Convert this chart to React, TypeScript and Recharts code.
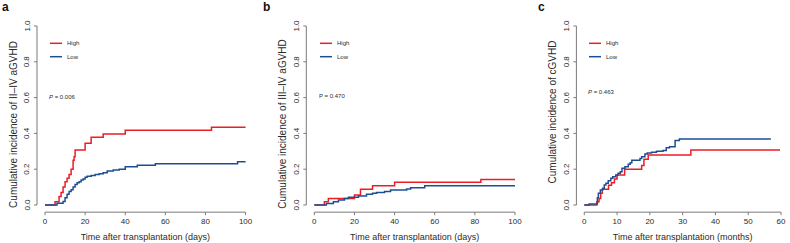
import React from 'react';
import { LineChart, Line, XAxis, YAxis, ReferenceLine, Legend, Label } from 'recharts';

const FONT = '"Liberation Sans", Arial, Helvetica, sans-serif';
const RED = '#ec1d25';
const BLUE = '#1c4f92';
const AXIS = '#7a7a7a';
const INK = '#2b2b2b';

// Shared axis ticks
const dayTicks = [0, 20, 40, 60, 80, 100];
const monthTicks = [0, 10, 20, 30, 40, 50, 60];
const probTicks = [0, 0.2, 0.4, 0.6, 0.8, 1];
const probTickLabels = ['0.0', '0.2', '0.4', '0.6', '0.8', '1.0'];

// a: grade II–IV acute GVHD (days)
const aHighT = [0, 5, 7, 8, 9, 10, 11, 12, 13, 14, 14.5, 15, 20, 23, 29, 40, 83, 100];
const aHighV = [0, 0.018, 0.047, 0.07, 0.1, 0.13, 0.15, 0.17, 0.2, 0.25, 0.27, 0.307, 0.345, 0.378, 0.397, 0.417, 0.434, 0.434];
const aLowT = [0, 6, 9, 10, 11, 12, 13, 14, 15, 16, 17, 18, 19, 20, 21, 23, 25, 27, 29, 31, 34, 37, 40, 46, 55, 96, 100];
const aLowV = [0, 0.01, 0.02, 0.04, 0.06, 0.075, 0.085, 0.1, 0.115, 0.125, 0.13, 0.14, 0.145, 0.155, 0.16, 0.165, 0.17, 0.175, 0.18, 0.19, 0.195, 0.2, 0.213, 0.222, 0.23, 0.242, 0.242];

// b: grade III–IV acute GVHD (days)
const bHighT = [0, 5, 7, 20, 23, 29, 40, 83, 100];
const bHighV = [0, 0.018, 0.037, 0.056, 0.088, 0.108, 0.127, 0.143, 0.143];
const bLowT = [0, 6, 9.5, 12, 15, 17, 22, 26, 29, 31, 35, 38, 46, 48, 55, 100];
const bLowV = [0, 0.009, 0.018, 0.028, 0.037, 0.043, 0.05, 0.06, 0.065, 0.07, 0.076, 0.084, 0.09, 0.097, 0.107, 0.107];

// c: chronic GVHD (months)
const cHighT = [0, 3.8, 4.5, 5, 5.5, 7.4, 8.3, 9.2, 10, 12.3, 17.5, 18.2, 19.5, 32.5, 59.7];
const cHighV = [0, 0.018, 0.037, 0.065, 0.088, 0.11, 0.125, 0.145, 0.168, 0.2, 0.22, 0.255, 0.28, 0.307, 0.307];
const cLowT = [0, 1.5, 4, 4.3, 4.9, 5.6, 6.1, 6.6, 7.3, 8.1, 8.7, 9.6, 10.3, 11, 11.5, 12.4, 13.4, 14, 14.5, 17, 17.5, 18.5, 19.2, 20.5, 22, 24, 25, 26, 27.7, 29, 56.9];
const cLowV = [0, 0.006, 0.04, 0.065, 0.084, 0.093, 0.112, 0.121, 0.136, 0.149, 0.158, 0.168, 0.177, 0.186, 0.205, 0.214, 0.227, 0.236, 0.25, 0.26, 0.27, 0.285, 0.29, 0.295, 0.3, 0.305, 0.32, 0.326, 0.36, 0.369, 0.369];

type Pt = { t: number; v: number };
const toSteps = (t: number[], v: number[]): Pt[] => t.map((x, i) => ({ t: x, v: v[i] }));

const CHART_H = 243;
const PLOT_TOP = 18.84;
const X_AXIS_H = 30.84;

interface PanelProps {
  left: number;
  width: number;
  yAxisWidth: number;
  marginRight: number;
  xDomain: [number, number];
  xTicks: number[];
  high: Pt[];
  low: Pt[];
  letter: string;
  letterLeft: number;
  yTitle: string;
  yTitleCenter: number;
  xTitle: string;
  pValue: string;
  pItalic: boolean;
  keyLeft: number;
  pY: number;
}

const KEY_TOP = 38;

const KeyBox = (props: any) => {
  const { payload, pValue, pItalic, pY } = props;
  return (
    <svg width={80} height={70} style={{ display: 'block', overflow: 'visible' }}>
      {(payload || []).map((p: any, i: number) => {
        const y = 5.3 + i * 13.4;
        return (
          <g key={p.value}>
            <line x1={0} x2={12} y1={y} y2={y} stroke={p.color} strokeWidth={1.5} />
            <text x={17} y={y} dy="0.36em" fontSize={6} fontFamily={FONT} fill={INK}>
              {p.value}
            </text>
          </g>
        );
      })}
      <text x={-1} y={pY - KEY_TOP} dy="0.36em" fontSize={6} fontFamily={FONT} fill={INK}>
        <tspan fontStyle={pItalic ? 'italic' : 'normal'}>P</tspan>
        <tspan>{` = ${pValue}`}</tspan>
      </text>
    </svg>
  );
};

const YTick = (props: any) => {
  const { x, y, payload } = props;
  const idx = probTicks.indexOf(payload.value);
  return (
    <text
      x={x}
      y={y}
      transform={`rotate(-90, ${x}, ${y})`}
      textAnchor="middle"
      fontSize={8}
      fontFamily={FONT}
      fill={INK}
    >
      {idx >= 0 ? probTickLabels[idx] : payload.value}
    </text>
  );
};

const Panel = (p: PanelProps) => {
  const xFirst = p.xTicks[0];
  const xLast = p.xTicks[p.xTicks.length - 1];
  return (
    <div style={{ position: 'absolute', left: p.left, top: 0, width: p.width, height: CHART_H }}>
      <svg
        width={20}
        height={16}
        style={{ position: 'absolute', left: p.letterLeft - p.left, top: 0, overflow: 'visible' }}
      >
        <text x={0} y={11.2} fontSize={12} fontWeight="bold" fontFamily={FONT} fill="#111">
          {p.letter}
        </text>
      </svg>
      <LineChart
        width={p.width}
        height={CHART_H}
        margin={{ top: PLOT_TOP, right: p.marginRight, bottom: 0, left: 0 }}
      >
        <XAxis
          type="number"
          dataKey="t"
          domain={p.xDomain}
          ticks={p.xTicks}
          allowDataOverflow
          height={X_AXIS_H}
          axisLine={false}
          tickLine={{ stroke: AXIS }}
          tickSize={3}
          tickMargin={3}
          tick={{ fontSize: 8, fill: INK, fontFamily: FONT }}
          interval={0}
        >
          <Label
            content={(lp: any) => {
              const vb = lp.viewBox || { x: 0, width: 0 };
              return (
                <text
                  x={vb.x + vb.width / 2}
                  y={239.5}
                  textAnchor="middle"
                  fontSize={9}
                  fontFamily={FONT}
                  fill={INK}
                >
                  {p.xTitle}
                </text>
              );
            }}
          />
        </XAxis>
        <YAxis
          type="number"
          domain={[-0.04, 1.04]}
          ticks={probTicks}
          allowDataOverflow
          width={p.yAxisWidth}
          axisLine={false}
          tickLine={{ stroke: AXIS }}
          tickSize={3}
          tickMargin={4.5}
          tick={<YTick />}
          interval={0}
        >
          <Label
            content={() => {
              const bx = p.yAxisWidth - 20.5;
              return (
                <text
                  x={bx}
                  y={p.yTitleCenter}
                  transform={`rotate(-90, ${bx}, ${p.yTitleCenter})`}
                  textAnchor="middle"
                  fontSize={10}
                  fontFamily={FONT}
                  fill={INK}
                >
                  {p.yTitle}
                </text>
              );
            }}
          />
        </YAxis>
        <ReferenceLine
          segment={[{ x: xFirst, y: -0.04 }, { x: xLast, y: -0.04 }]}
          stroke={AXIS}
          strokeWidth={1}
          ifOverflow="visible"
        />
        <ReferenceLine
          segment={[{ x: p.xDomain[0], y: 0 }, { x: p.xDomain[0], y: 1 }]}
          stroke={AXIS}
          strokeWidth={1}
          ifOverflow="visible"
        />
        <Legend
          layout="horizontal"
          verticalAlign="middle"
          align="center"
          wrapperStyle={{ left: p.keyLeft, top: KEY_TOP, width: 80, height: 70 }}
          content={(lp: any) => (
            <KeyBox payload={lp.payload} pValue={p.pValue} pItalic={p.pItalic} pY={p.pY} />
          )}
        />
        <Line
          data={p.high}
          dataKey="v"
          name="High"
          type="stepAfter"
          stroke={RED}
          strokeWidth={1.5}
          dot={false}
          activeDot={false}
          isAnimationActive={false}
        />
        <Line
          data={p.low}
          dataKey="v"
          name="Low"
          type="stepAfter"
          stroke={BLUE}
          strokeWidth={1.5}
          dot={false}
          activeDot={false}
          isAnimationActive={false}
        />
      </LineChart>
    </div>
  );
};

export default function App() {
  return (
    <div style={{ position: 'absolute', left: 0, top: 0, width: 790, height: 243, background: '#fff' }}>
      <Panel
        left={0}
        width={262}
        yAxisWidth={37}
        marginRight={8.4}
        xDomain={[-4, 104]}
        xTicks={dayTicks}
        high={toSteps(aHighT, aHighV)}
        low={toSteps(aLowT, aLowV)}
        letter="a"
        letterLeft={2}
        yTitle="Cumulative incidence of II–IV aGVHD"
        yTitleCenter={124.5}
        xTitle="Time after transplantation (days)"
        pValue="0.006"
        pItalic
        keyLeft={50}
        pY={96.7}
      />
      <Panel
        left={262}
        width={266}
        yAxisWidth={44.3}
        marginRight={5}
        xDomain={[-4, 104]}
        xTicks={dayTicks}
        high={toSteps(bHighT, bHighV)}
        low={toSteps(bLowT, bLowV)}
        letter="b"
        letterLeft={263}
        yTitle="Cumulative incidence of III–IV aGVHD"
        yTitleCenter={124}
        xTitle="Time after transplantation (days)"
        pValue="0.470"
        pItalic={false}
        keyLeft={58}
        pY={96}
      />
      <Panel
        left={528}
        width={262}
        yAxisWidth={48.4}
        marginRight={1.1}
        xDomain={[-2.4, 62.4]}
        xTicks={monthTicks}
        high={toSteps(cHighT, cHighV)}
        low={toSteps(cLowT, cLowV)}
        letter="c"
        letterLeft={538}
        yTitle="Cumulative incidence of cGVHD"
        yTitleCenter={112}
        xTitle="Time after transplantation (months)"
        pValue="0.463"
        pItalic
        keyLeft={61}
        pY={92.3}
      />
    </div>
  );
}
